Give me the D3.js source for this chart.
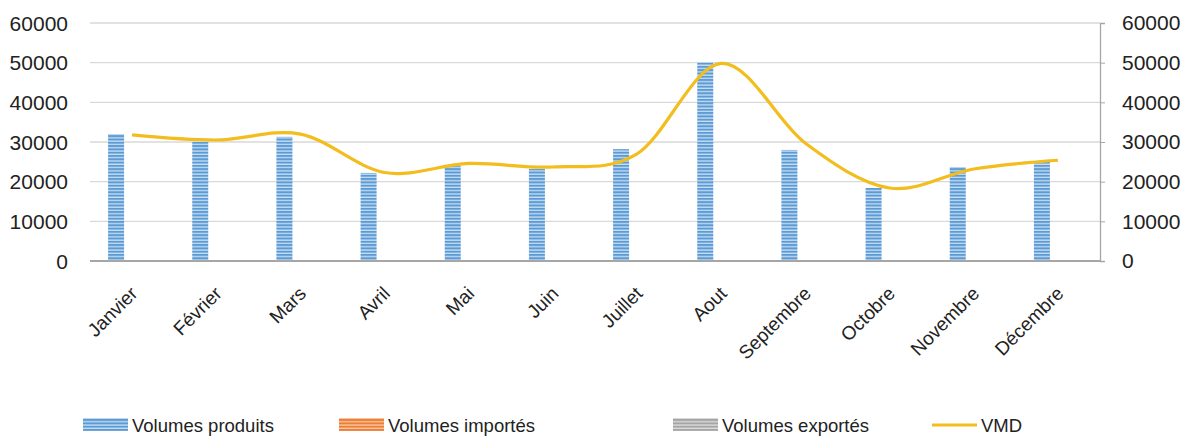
<!DOCTYPE html>
<html>
<head>
<meta charset="utf-8">
<script src="https://cdn.jsdelivr.net/npm/d3@7"></script>
<style>
  body { margin: 0; background: #fff; }
  svg { display: block; font-family: "Liberation Sans", Arial, sans-serif; }
</style>
</head>
<body>
<svg id="chart" width="1184" height="437"></svg>
<script>
// Monthly volumes and VMD
const months = ["Janvier", "Février", "Mars", "Avril", "Mai", "Juin", "Juillet", "Aout", "Septembre", "Octobre", "Novembre", "Décembre"];
const volumesProduits = [32000, 30000, 31300, 22200, 24000, 23200, 28200, 50000, 28000, 18400, 23700, 25000];
const volumesImportes = [0, 0, 0, 0, 0, 0, 0, 0, 0, 0, 0, 0];
const volumesExportes = [0, 0, 0, 0, 0, 0, 0, 0, 0, 0, 0, 0];
const vmd = [31800, 30500, 32000, 22300, 24600, 23700, 27000, 49800, 29700, 18400, 23200, 25400];
const yTicks = [0, 10000, 20000, 30000, 40000, 50000, 60000];
const seriesNames = ["Volumes produits", "Volumes importés", "Volumes exportés"];

const svg = d3.select("#chart");
const margin = { left: 90, right: 84, top: 23, bottom: 176 };
const W = 1184, H = 437;
const plotW = W - margin.left - margin.right;
const plotH = H - margin.top - margin.bottom;

// Striped fills for bars and legend swatches
const defs = svg.append("defs");
const fills = [
  { id: "stripeBlue", dark: "#5b9bd5", light: "#c9def2" },
  { id: "stripeOrange", dark: "#ed7d31", light: "#f8cbad" },
  { id: "stripeGray", dark: "#a5a5a5", light: "#dedede" }
];
fills.forEach(f => {
  const p = defs.append("pattern").attr("id", f.id).attr("patternUnits", "userSpaceOnUse")
    .attr("width", 8).attr("height", 3.3);
  p.append("rect").attr("width", 8).attr("height", 3.3).attr("fill", f.light);
  p.append("rect").attr("y", 0).attr("width", 8).attr("height", 2).attr("fill", f.dark);
});

const g = svg.append("g").attr("transform", `translate(${margin.left},${margin.top})`);

const x = d3.scaleBand().domain(months).range([0, plotW]).paddingInner(0).paddingOuter(0);
const y = d3.scaleLinear().domain([0, 60000]).range([plotH, 0]);
const barGroupW = 48;
const xs = d3.scaleBand().domain(seriesNames).range([-barGroupW / 2, barGroupW / 2]).padding(0);

// Gridlines
g.append("g").selectAll("line").data(yTicks.filter(d => d > 0)).join("line")
  .attr("x1", 0).attr("x2", plotW)
  .attr("y1", d => y(d)).attr("y2", d => y(d))
  .attr("stroke", "#d9d9d9").attr("stroke-width", 1.3);

// Left axis labels
g.append("g").selectAll("text").data(yTicks).join("text")
  .attr("x", -22).attr("y", d => y(d)).attr("dy", "0.36em")
  .attr("text-anchor", "end").attr("font-size", 21).attr("fill", "#222")
  .text(d => d);

// Right axis
const yRight = d3.axisRight(y).tickValues(yTicks).tickSize(5).tickPadding(17).tickFormat(d => d);
const ra = g.append("g").attr("transform", `translate(${plotW},0)`).call(yRight);
ra.select(".domain").attr("stroke", "#a6a6a6").attr("stroke-width", 1.3);
ra.selectAll(".tick line").attr("stroke", "#a6a6a6");
ra.selectAll(".tick text").attr("font-size", 21).attr("fill", "#222").attr("font-family", "Liberation Sans, Arial, sans-serif");

// Bars
const seriesData = [volumesProduits, volumesImportes, volumesExportes];
seriesData.forEach((vals, si) => {
  g.append("g").selectAll("rect").data(vals).join("rect")
    .attr("x", (d, i) => x(months[i]) + x.bandwidth() / 2 + xs(seriesNames[si]))
    .attr("width", xs.bandwidth())
    .attr("y", d => y(d))
    .attr("height", d => plotH - y(d))
    .attr("fill", `url(#${fills[si].id})`);
});

// Bottom axis line
g.append("line").attr("x1", 0).attr("x2", plotW).attr("y1", plotH).attr("y2", plotH)
  .attr("stroke", "#a6a6a6").attr("stroke-width", 2.2);

// Month labels
g.append("g").selectAll("text").data(months).join("text")
  .attr("transform", d => `translate(${x(d) + x.bandwidth() / 2 + 2},${plotH + 29}) rotate(-45)`)
  .attr("text-anchor", "end").attr("dy", "0.35em")
  .attr("font-size", 19).attr("fill", "#222")
  .text(d => d);

// VMD smoothed line
const line = d3.line()
  .x((d, i) => x(months[i]) + x.bandwidth() / 2)
  .y(d => y(d))
  .curve(d3.curveCardinal.tension(0));
g.append("path").datum(vmd).attr("d", line)
  .attr("fill", "none").attr("stroke", "#f2bd1d").attr("stroke-width", 3.2);

// Legend
const legendY = 425;
const legendItems = [
  { name: seriesNames[0], x: 83, fill: "url(#stripeBlue)" },
  { name: seriesNames[1], x: 339, fill: "url(#stripeOrange)" },
  { name: seriesNames[2], x: 673, fill: "url(#stripeGray)" },
  { name: "VMD", x: 932, line: "#f2bd1d" }
];
const lg = svg.append("g");
legendItems.forEach(it => {
  if (it.line) {
    lg.append("line").attr("x1", it.x).attr("x2", it.x + 45).attr("y1", legendY).attr("y2", legendY)
      .attr("stroke", it.line).attr("stroke-width", 3.2);
  } else {
    lg.append("rect").attr("x", it.x).attr("y", legendY - 7).attr("width", 45).attr("height", 13)
      .attr("fill", it.fill);
  }
  lg.append("text").attr("x", it.x + 49).attr("y", legendY).attr("dy", "0.36em")
    .attr("font-size", 18.5).attr("fill", "#222").text(it.name);
});
</script>
</body>
</html>
